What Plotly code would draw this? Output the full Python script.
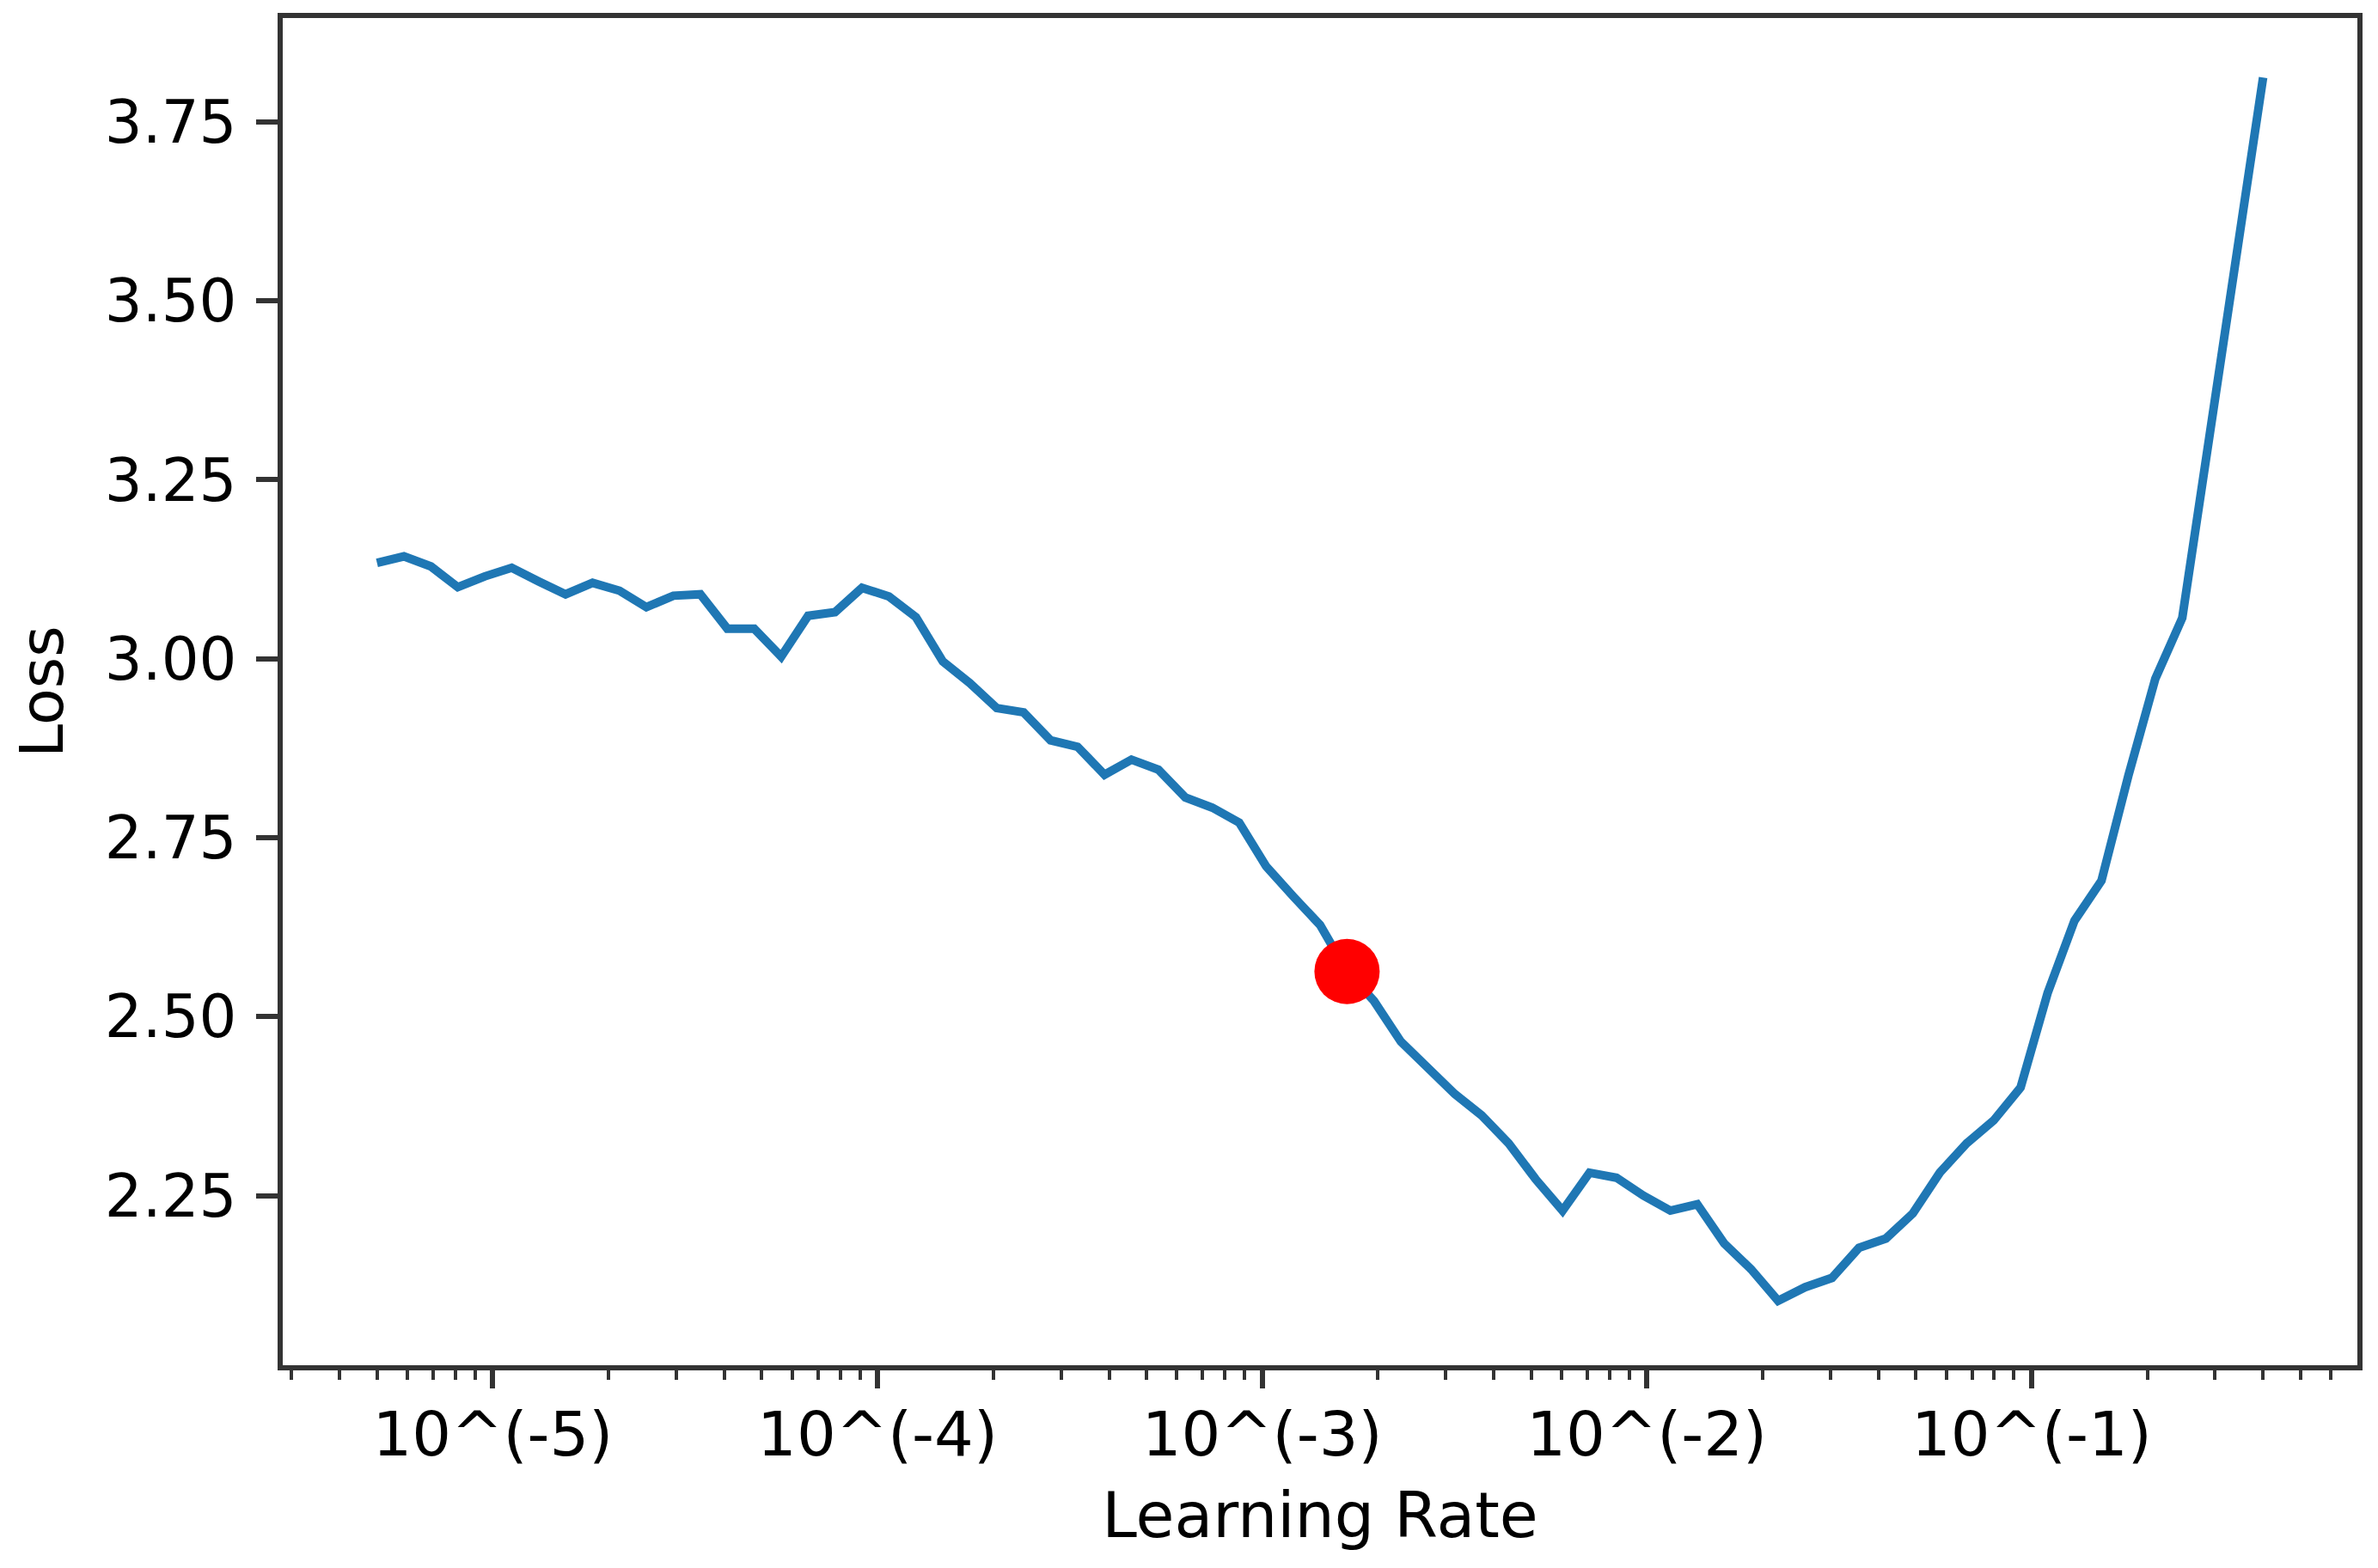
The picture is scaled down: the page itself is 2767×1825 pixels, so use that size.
import plotly.graph_objects as go

# Learning-rate sweep (x, log scale) and smoothed loss (y)
learning_rate = [
    5.000e-6, 5.875e-6, 6.903e-6, 8.111e-6, 9.531e-6, 1.120e-5, 1.316e-5, 1.546e-5,
    1.817e-5, 2.135e-5, 2.508e-5, 2.948e-5, 3.464e-5, 4.070e-5, 4.782e-5, 5.619e-5,
    6.602e-5, 7.758e-5, 9.115e-5, 1.071e-4, 1.259e-4, 1.479e-4, 1.738e-4, 2.042e-4,
    2.399e-4, 2.819e-4, 3.312e-4, 3.892e-4, 4.573e-4, 5.373e-4, 6.314e-4, 7.419e-4,
    8.717e-4, 1.024e-3, 1.204e-3, 1.414e-3, 1.662e-3, 1.952e-3, 2.294e-3, 2.696e-3,
    3.167e-3, 3.722e-3, 4.373e-3, 5.138e-3, 6.038e-3, 7.094e-3, 8.336e-3, 9.795e-3,
    1.151e-2, 1.352e-2, 1.589e-2, 1.867e-2, 2.194e-2, 2.578e-2, 3.029e-2, 3.559e-2,
    4.182e-2, 4.914e-2, 5.774e-2, 6.784e-2, 7.972e-2, 9.367e-2, 1.101e-1, 1.293e-1,
    1.520e-1, 1.786e-1, 2.098e-1, 2.465e-1, 2.897e-1, 3.404e-1, 3.999e-1,
]
loss = [
    3.134, 3.143, 3.129, 3.100, 3.115, 3.127, 3.108, 3.090,
    3.106, 3.095, 3.072, 3.088, 3.090, 3.042, 3.042, 3.003,
    3.060, 3.065, 3.099, 3.087, 3.058, 2.996, 2.966, 2.931,
    2.925, 2.886, 2.877, 2.838, 2.859, 2.845, 2.806, 2.792,
    2.771, 2.710, 2.668, 2.628, 2.563, 2.522, 2.465, 2.428,
    2.392, 2.362, 2.323, 2.273, 2.229, 2.282, 2.275, 2.250,
    2.229, 2.238, 2.183, 2.147, 2.103, 2.122, 2.135, 2.177,
    2.190, 2.225, 2.282, 2.323, 2.355, 2.401, 2.533, 2.634,
    2.690, 2.837, 2.972, 3.057, 3.306, 3.560, 3.812,
]
suggested_index = 36

x_tick_values = [1e-5, 1e-4, 1e-3, 1e-2, 1e-1]
x_tick_labels = ["10^(-5)", "10^(-4)", "10^(-3)", "10^(-2)", "10^(-1)"]
x_minor_digits = [2, 3, 4, 5, 6, 7, 8, 9]
x_minor_decades = [-6, -5, -4, -3, -2, -1]
y_tick_values = [2.25, 2.50, 2.75, 3.00, 3.25, 3.50, 3.75]
y_tick_labels = ["2.25", "2.50", "2.75", "3.00", "3.25", "3.50", "3.75"]

x_range_log = [-5.546, -0.153]
y_range = [2.013, 3.895]

x_minor_ticks = [d * 10.0 ** e for e in x_minor_decades for d in x_minor_digits
                 if 10 ** x_range_log[0] < d * 10.0 ** e < 0.65]

FONT = "DejaVu Sans"
SPINE = "#333333"

fig = go.Figure()
fig.add_trace(go.Scatter(
    x=learning_rate, y=loss, mode="lines",
    line=dict(color="#1f77b4", width=10),
    hoverinfo="skip",
))
fig.add_trace(go.Scatter(
    x=[learning_rate[suggested_index]], y=[loss[suggested_index]], mode="markers",
    marker=dict(color="#ff0000", size=76, line=dict(width=0)),
))

# The page body adds an 8 px margin, so the figure is 16 px smaller than the window.
fig.update_layout(
    width=2751, height=1809,
    paper_bgcolor="white", plot_bgcolor="white",
    showlegend=False,
    margin=dict(l=321, r=16, t=13, b=228, pad=0),
    font=dict(family=FONT, color="black"),
)
fig.update_xaxes(
    type="log", range=x_range_log,
    tickmode="array", tickvals=x_tick_values, ticktext=x_tick_labels,
    ticks="outside", ticklen=21, tickwidth=5.5, tickcolor=SPINE,
    showline=True, linewidth=5.5, linecolor=SPINE, mirror=True,
    showgrid=False, zeroline=False, automargin=False,
    ticklabelstandoff=-8,
    tickfont=dict(family=FONT, size=72, color="black"),
    title=dict(text="Learning Rate", font=dict(family=FONT, size=73, color="black"), standoff=30),
    minor=dict(tickmode="array", tickvals=x_minor_ticks, ticks="outside",
               ticklen=11, tickwidth=3.5, tickcolor=SPINE, showgrid=False),
)
fig.update_yaxes(
    range=y_range,
    tickmode="array", tickvals=y_tick_values, ticktext=y_tick_labels,
    ticks="outside", ticklen=25, tickwidth=5.5, tickcolor=SPINE,
    showline=True, linewidth=5.5, linecolor=SPINE, mirror=True,
    showgrid=False, zeroline=False, automargin=False,
    ticklabelstandoff=9,
    tickfont=dict(family=FONT, size=69, color="black"),
    title=dict(text="Loss", font=dict(family=FONT, size=70, color="black"), standoff=40),
)

fig.write_html("out.html")
